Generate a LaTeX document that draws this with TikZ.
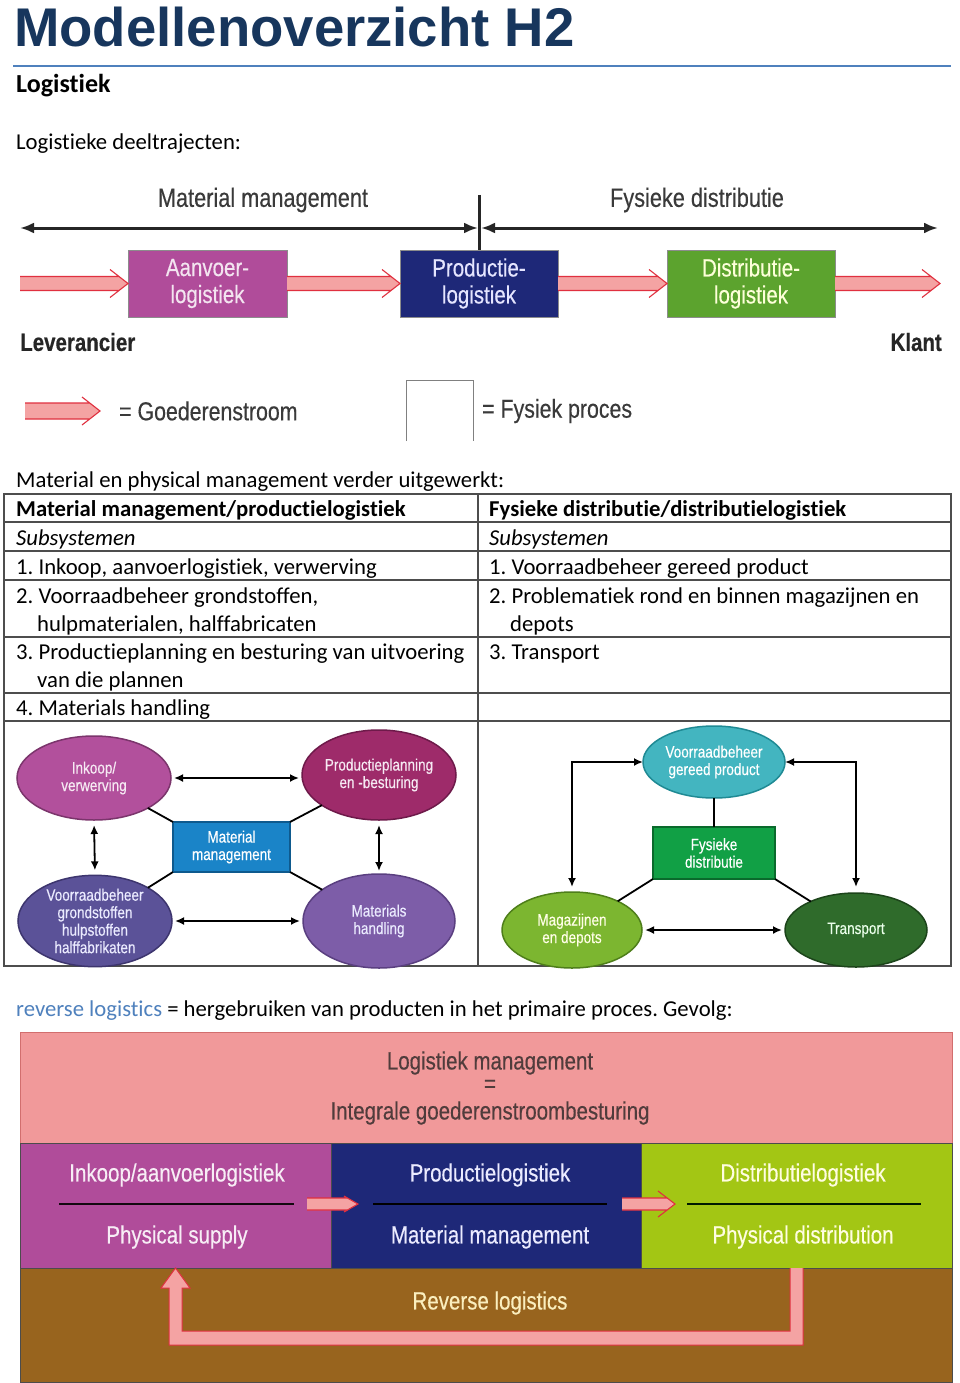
\documentclass[tikz,border=0pt]{standalone}
\usepackage{fontspec}
\setmainfont{Carlito}[Ligatures=NoCommon]
\newfontfamily\cf[FakeStretch=0.82,FakeBold=0.35]{Liberation Sans}
\newfontfamily\titlef{Liberation Sans}
\usetikzlibrary{arrows.meta,calc,shapes.geometric}
\definecolor{titleblue}{HTML}{17365D}
\definecolor{rulec}{HTML}{4F81BD}
\definecolor{pinkf}{HTML}{F4A3A3}
\definecolor{redl}{HTML}{E0303F}
\definecolor{magf}{HTML}{B04C9A}
\definecolor{navyf}{HTML}{1E2878}
\definecolor{greenf}{HTML}{5CA32E}
\definecolor{limef}{HTML}{A3C614}
\definecolor{brownf}{HTML}{98641E}
\definecolor{bandpink}{HTML}{F1999A}
\definecolor{gtext}{HTML}{3A3A3A}
\definecolor{tline}{HTML}{4D4D4D}
\newcommand\goods[5]{%
  \fill[pinkf] let \p1=(#1),\p2=(#2) in
    (\x1,\y1+#3pt) -- (\x2-#5*#3/#4*1pt,\y1+#3pt) -- (\x2,\y1) --
    (\x2-#5*#3/#4*1pt,\y1-#3pt) -- (\x1,\y1-#3pt) -- cycle;
  \draw[redl,line width=1.1pt] let \p1=(#1),\p2=(#2) in
    (\x1,\y1+#3pt) -- (\x2-#5*#3/#4*1pt,\y1+#3pt)
    (\x1,\y1-#3pt) -- (\x2-#5*#3/#4*1pt,\y1-#3pt)
    (\x2-#5*1pt,\y1+#4pt) -- (\x2,\y1) -- (\x2-#5*1pt,\y1-#4pt);}
\tikzset{
  body/.style={anchor=base west,inner sep=0,font=\fontsize{22.7}{28}\selectfont},
  procbox/.style={rectangle,inner sep=0,outer sep=0,align=center,draw=black!45,line width=0.8pt,
    font=\cf\fontsize{25}{27}\selectfont},
  ell/.style={ellipse,inner sep=0,outer sep=0,align=center,line width=1.5pt,
    font=\cf\fontsize{16.5}{17.5}\selectfont},
  rbox/.style={rectangle,inner sep=0,outer sep=0,align=center,line width=1.2pt,
    font=\cf\fontsize{16.5}{17.5}\selectfont},
  darr/.style={{Latex[length=9pt,width=8pt]}-{Latex[length=9pt,width=8pt]},line width=1.8pt},
  conn/.style={line width=1.8pt},
  bigarr/.style={{Latex[length=14pt,width=11pt]}-{Latex[length=14pt,width=11pt]},line width=3pt,black!85},
  cflab/.style={inner sep=0,align=center,font=\cf\fontsize{26.5}{28}\selectfont},
  blocktext/.style={inner sep=0,align=center,font=\cf\fontsize{25}{27}\selectfont},
  block/.style={rectangle,inner sep=0,outer sep=0,anchor=north west,draw=black!70,line width=0.8pt},
}
\begin{document}
\frenchspacing
\begin{tikzpicture}[x=1pt,y=-1pt]
\useasboundingbox (0,0) rectangle (960,1383);
\fill[white] (0,0) rectangle (960,1383);
% header
\node[anchor=base west,inner sep=0,text=titleblue,font=\titlef\bfseries\fontsize{54.5}{60}\selectfont] (title) at (14,47) {Modellenoverzicht H2};
\draw[rulec,line width=2pt] (13,66) -- (951,66);
\node[anchor=base west,inner sep=0,font=\bfseries\fontsize{26}{30}\selectfont] (sub) at (16,93) {Logistiek};
\node[body] (intro) at (16,150) {Logistieke deeltrajecten:};
% top diagram
\node[cflab,text=gtext] (mmlab) at (263,200) {Material management};
\node[cflab,text=gtext] (fdlab) at (697,200) {Fysieke distributie};
\coordinate (mmL) at (20,228);
\coordinate (mmR) at (478,228);
\coordinate (fdL) at (481,228);
\coordinate (fdR) at (938,228);
\coordinate (sepT) at (479.5,195);
\coordinate (sepB) at (479.5,250);
\draw[bigarr] (mmL) -- (mmR);
\draw[bigarr] (fdL) -- (fdR);
\draw[line width=3pt,black!85] (sepT) -- (sepB);
\node[procbox,fill=magf,text=magf!15,minimum width=159pt,minimum height=67pt] (aanv) at (207.5,283.5) {Aanvoer-\\logistiek};
\node[procbox,fill=navyf,text=blue!10,minimum width=158pt,minimum height=67pt] (prod) at (479,283.5) {Productie-\\logistiek};
\node[procbox,fill=greenf,text=green!5!yellow!15,minimum width=168pt,minimum height=67pt] (dist) at (751,283.5) {Distributie-\\logistiek};
\coordinate (gs) at (20,283.5);
\coordinate (ge) at (940,283.5);
\goods{gs}{aanv.west}{7}{14}{18}
\goods{aanv.east}{prod.west}{7}{14}{18}
\goods{prod.east}{dist.west}{7}{14}{18}
\goods{dist.east}{ge}{7}{14}{18}
\node[anchor=west,inner sep=0,font=\cf\bfseries\fontsize{25}{27}\selectfont,text=black!85] (lev) at (20,342) {Leverancier};
\node[anchor=east,inner sep=0,font=\cf\bfseries\fontsize{25}{27}\selectfont,text=black!85] (klant) at (942,342) {Klant};
% legend
\coordinate (lgs) at (25,411);
\coordinate (lge) at (100,411);
\goods{lgs}{lge}{8}{14}{18}
\node[anchor=west,inner sep=0,font=\cf\fontsize{26}{28}\selectfont,text=gtext] (lg1) at (119,411) {= Goederenstroom};
\draw[black!50,line width=1pt] (406,441) -- (406,380) -- (473,380) -- (473,441);
\node[anchor=west,inner sep=0,font=\cf\fontsize{26}{28}\selectfont,text=gtext] (lg2) at (482,411) {= Fysiek proces};
% table
\node[body] (tintro) at (16,487) {Material en physical management verder uitgewerkt:};
\draw[tline,line width=1.3pt] (4,494) rectangle (951,966);
\draw[tline,line width=1.3pt] (478,494) -- (478,966);
\foreach \yy in {522,551,580,637,693,721} \draw[tline,line width=1.3pt] (4,\yy) -- (951,\yy);
\node[body,font=\bfseries\fontsize{22.7}{28}\selectfont] (h1) at (16,516) {Material management/productielogistiek};
\node[body,font=\bfseries\fontsize{22.7}{28}\selectfont] (h2) at (489,516) {Fysieke distributie/distributielogistiek};
\node[body,font=\itshape\fontsize{22.7}{28}\selectfont] (s1) at (16,545) {Subsystemen};
\node[body,font=\itshape\fontsize{22.7}{28}\selectfont] (s2) at (489,545) {Subsystemen};
\node[body] (l1) at (16,574) {1. Inkoop, aanvoerlogistiek, verwerving};
\node[body] (r1) at (489,574) {1. Voorraadbeheer gereed product};
\node[body] (l2) at (16,603) {2. Voorraadbeheer grondstoffen,};
\node[body] (l2b) at (37,631) {hulpmaterialen, halffabricaten};
\node[body] (r2) at (489,603) {2. Problematiek rond en binnen magazijnen en};
\node[body] (r2b) at (510,631) {depots};
\node[body] (l3) at (16,659) {3. Productieplanning en besturing van uitvoering};
\node[body] (l3b) at (37,687) {van die plannen};
\node[body] (r3) at (489,659) {3. Transport};
\node[body] (l4) at (16,715) {4. Materials handling};
% left diagram
\node[ell,fill=magf!98!white,draw=magf!70!black,text=magf!12,minimum width=154pt,minimum height=84pt] (ink) at (94,778) {Inkoop/\\verwerving};
\node[ell,fill={rgb,255:red,158;green,43;blue,106},draw={rgb,255:red,110;green,26;blue,74},text=magf!12,minimum width=154pt,minimum height=90pt] (ppb) at (379,775) {Productieplanning\\en -besturing};
\node[rbox,fill={rgb,255:red,26;green,132;blue,200},draw={rgb,255:red,14;green,90;blue,142},text=white,minimum width=117pt,minimum height=50pt] (mm) at (231.5,847) {Material\\management};
\node[ell,fill={rgb,255:red,91;green,82;blue,152},draw={rgb,255:red,61;green,53;blue,110},text=white!92!blue,minimum width=154pt,minimum height=90pt] (vrd) at (95,921) {Voorraadbeheer\\grondstoffen\\hulpstoffen\\halffabrikaten};
\node[ell,fill={rgb,255:red,125;green,93;blue,168},draw={rgb,255:red,90;green,63;blue,128},text=white!92!blue,minimum width=152pt,minimum height=94pt] (mh) at (379,921) {Materials\\handling};
\draw[darr,shorten <=3pt,shorten >=3pt] (ink.east) -- (ppb.west |- ink.east);
\draw[darr,shorten <=5pt,shorten >=5pt] (ink.south) -- (vrd.north);
\draw[darr,shorten <=5pt,shorten >=3pt] (ppb.south) -- (mh.north);
\draw[darr,shorten <=3pt,shorten >=3pt] (vrd.east) -- (mh.west);
\draw[conn] (mm.north west) -- (ink);
\draw[conn] (mm.north east) -- (ppb);
\draw[conn] (mm.south west) -- (vrd);
\draw[conn] (mm.south east) -- (mh);
% right diagram
\node[ell,fill={rgb,255:red,67;green,181;blue,192},draw={rgb,255:red,31;green,138;blue,148},text=white,minimum width=142pt,minimum height=72pt] (vgp) at (714,762) {Voorraadbeheer\\gereed product};
\node[rbox,fill={rgb,255:red,17;green,160;blue,69},draw={rgb,255:red,10;green,106;blue,44},text=white,minimum width=122pt,minimum height=52pt] (fd) at (714,853) {Fysieke\\distributie};
\node[ell,fill={rgb,255:red,124;green,182;blue,48},draw={rgb,255:red,78;green,126;blue,26},text=white!90!yellow,minimum width=140pt,minimum height=76pt] (mag) at (572,930) {Magazijnen\\en depots};
\node[ell,fill={rgb,255:red,47;green,107;blue,43},draw={rgb,255:red,28;green,68;blue,26},text=white!92!green,minimum width=142pt,minimum height=74pt] (tr) at (856,930) {Transport};
\draw[conn] (vgp.south) -- (fd.north);
\draw[conn] (fd.south west) -- (mag);
\draw[conn] (fd.south east) -- (tr);
\draw[darr,shorten >=5pt] (vgp.west) -| (mag.north);
\draw[darr,shorten >=6pt] (vgp.east) -| (tr.north);
\draw[darr,shorten <=3pt,shorten >=3pt] (mag.east) -- (tr.west);
% reverse logistics
\node[body] (rev) at (16,1016) {\textcolor{rulec}{reverse logistics} = hergebruiken van producten in het primaire proces. Gevolg:};
\node[block,fill=bandpink,draw={rgb,255:red,210;green,110;blue,110},minimum width=932pt,minimum height=111pt] (band) at (20,1032) {};
\node[block,fill=brownf,minimum width=932pt,minimum height=114pt] (rband) at (20,1268) {};
\node[block,fill=magf,minimum width=311pt,minimum height=125pt] (iblk) at (20,1143) {};
\node[block,fill=navyf,minimum width=310pt,minimum height=125pt] (pblk) at (331,1143) {};
\node[block,fill=limef,minimum width=311pt,minimum height=125pt] (dblk) at (641,1143) {};
\node[blocktext,text={rgb,255:red,80;green,60;blue,60}] (lm1) at (490,1063) {Logistiek management};
\node[blocktext,text={rgb,255:red,80;green,60;blue,60}] (lm2) at (490,1086) {=};
\node[blocktext,text={rgb,255:red,80;green,60;blue,60}] (lm3) at (490,1113) {Integrale goederenstroombesturing};
\node[blocktext,text=magf!10] (it1) at (177,1175) {Inkoop/aanvoerlogistiek};
\node[blocktext,text=magf!10] (it2) at (177,1237) {Physical supply};
\node[blocktext,text=blue!8] (pt1) at (490,1175) {Productielogistiek};
\node[blocktext,text=blue!8] (pt2) at (490,1237) {Material management};
\node[blocktext,text=yellow!12] (dt1) at (803,1175) {Distributielogistiek};
\node[blocktext,text=yellow!12] (dt2) at (803,1237) {Physical distribution};
\draw[black!90!magf,line width=2.5pt] (59,1204) -- (294,1204);
\draw[black,line width=2.5pt] (373,1204) -- (607,1204);
\draw[black!90!green,line width=2.5pt] (687,1204) -- (921,1204);
\coordinate (sa1) at (307,1204);
\coordinate (sa2) at (358,1204);
\coordinate (sb1) at (622,1204);
\coordinate (sb2) at (675,1204);
\goods{sa1}{sa2}{6}{8}{14}
\goods{sb1}{sb2}{6}{13}{17}
\filldraw[fill=pinkf,draw=redl,line width=1pt] let \p1=(dblk.south),\p2=(iblk.south) in
  (\x1-6.5pt,\y1) -- (\x1-6.5pt,\y1-63pt) -- (\x2+6.5pt,\y1-63pt) -- (\x2+6.5pt,\y2-20pt) --
  (\x2+14.5pt,\y2-20pt) -- (\x2,\y2) -- (\x2-14.5pt,\y2-20pt) -- (\x2-6.5pt,\y2-20pt) --
  (\x2-6.5pt,\y1-77pt) -- (\x1+6.5pt,\y1-77pt) -- (\x1+6.5pt,\y1);
\node[blocktext,text={rgb,255:red,250;green,238;blue,190}] (rl) at (490,1303) {Reverse logistics};
\end{tikzpicture}
\end{document}
